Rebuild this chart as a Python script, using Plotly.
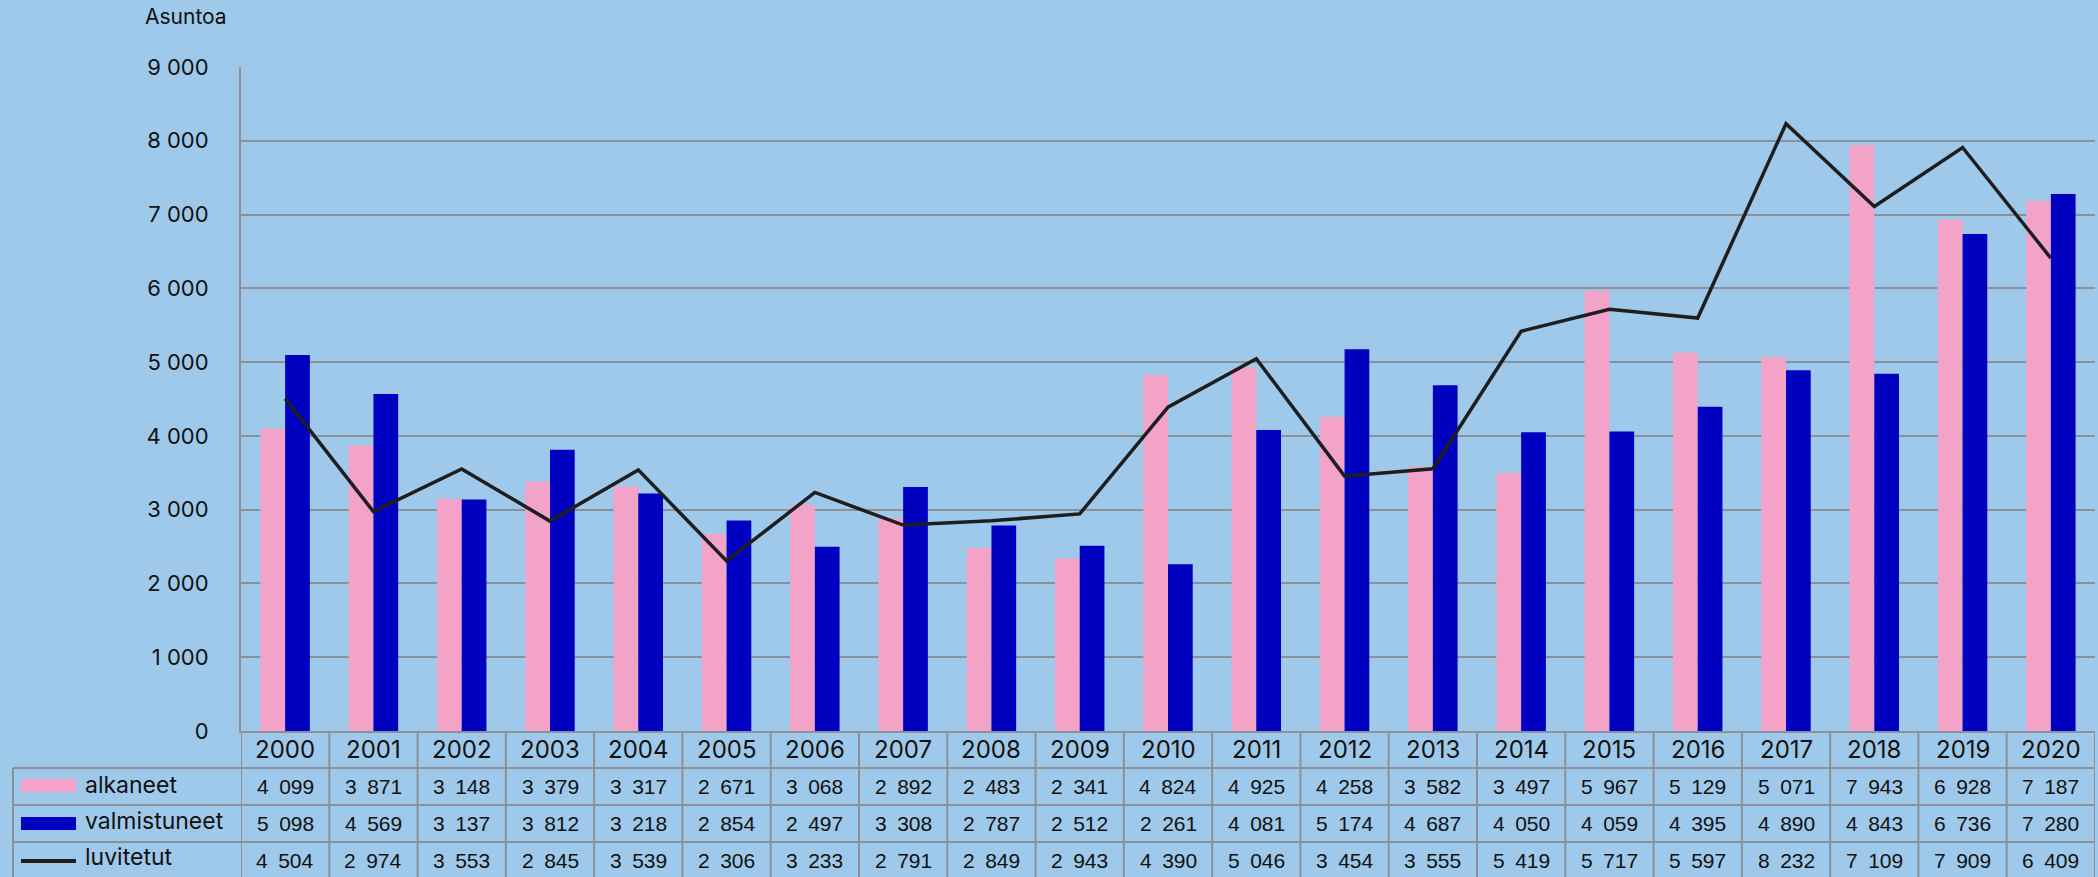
import plotly.graph_objects as go

years = [str(y) for y in range(2000, 2021)]
alkaneet = [4099, 3871, 3148, 3379, 3317, 2671, 3068, 2892, 2483, 2341, 4824,
            4925, 4258, 3582, 3497, 5967, 5129, 5071, 7943, 6928, 7187]
valmistuneet = [5098, 4569, 3137, 3812, 3218, 2854, 2497, 3308, 2787, 2512, 2261,
                4081, 5174, 4687, 4050, 4059, 4395, 4890, 4843, 6736, 7280]
luvitetut = [4504, 2974, 3553, 2845, 3539, 2306, 3233, 2791, 2849, 2943, 4390,
             5046, 3454, 3555, 5419, 5717, 5597, 8232, 7109, 7909, 6409]
series_names = ["alkaneet", "valmistuneet", "luvitetut"]

W, H = 2098, 877
PLOT_L, PLOT_R, PLOT_T, PLOT_B = 241, 2095, 67, 731
L, T = PLOT_L, PLOT_T
R = W - PLOT_R
B = H - PLOT_B
PH = PLOT_B - PLOT_T
PW = PLOT_R - PLOT_L

BG = "#9EC9EA"
PINK = "#F4A3C8"
BLUE = "#0000C0"
GRID = "#8C9198"
LINEC = "#1E1E1E"
FONT = "Inter, Liberation Sans, sans-serif"
TFONT = "Liberation Sans Narrow, Liberation Sans, sans-serif"

def py(Y):
    return (PLOT_B - Y) / PH

def px(X):
    return (X - PLOT_L) / PW

fig = go.Figure()
fig.add_trace(go.Bar(x=years, y=alkaneet, name=series_names[0], marker=dict(color=PINK, line=dict(width=0))))
fig.add_trace(go.Bar(x=years, y=valmistuneet, name=series_names[1], marker=dict(color=BLUE, line=dict(width=0))))
fig.add_trace(go.Scatter(x=years, y=luvitetut, name=series_names[2], mode="lines",
                         line=dict(color=LINEC, width=3.5)))

shapes = []
annotations = []

row_bounds = [731, 768, 805, 842, 879]
for i in range(len(years) + 1):
    shapes.append(dict(type="line", xref="x", yref="paper", x0=i - 0.5, x1=i - 0.5,
                       y0=py(row_bounds[0]), y1=py(row_bounds[-1]),
                       line=dict(color=GRID, width=2)))
for Y in row_bounds[1:]:
    shapes.append(dict(type="line", xref="paper", yref="paper", x0=px(13), x1=1,
                       y0=py(Y), y1=py(Y), line=dict(color=GRID, width=2)))
shapes.append(dict(type="line", xref="paper", yref="paper", x0=px(13), x1=px(13),
                   y0=py(768), y1=py(879), line=dict(color=GRID, width=2)))

for i, yr in enumerate(years):
    annotations.append(dict(x=i, y=py(749.5), xref="x", yref="paper", text=yr, showarrow=False,
                            xanchor="center", yanchor="middle",
                            font=dict(family=FONT, size=24, color="#111111")))

def fmt(v):
    return f"{v // 1000}\u2002{v % 1000:03d}"

rows = [alkaneet, valmistuneet, luvitetut]
centers = [786.5, 823.5, 860.5]
for vals, cy in zip(rows, centers):
    for i, v in enumerate(vals):
        annotations.append(dict(x=i, y=py(cy), xref="x", yref="paper", text=fmt(v), showarrow=False,
                                xanchor="center", yanchor="middle",
                                font=dict(family=TFONT, size=21, color="#111111")))

shapes.append(dict(type="rect", xref="paper", yref="paper", x0=px(21), x1=px(76),
                   y0=py(792), y1=py(779), fillcolor=PINK, line=dict(width=0)))
shapes.append(dict(type="rect", xref="paper", yref="paper", x0=px(21), x1=px(76),
                   y0=py(830), y1=py(817), fillcolor=BLUE, line=dict(width=0)))
shapes.append(dict(type="line", xref="paper", yref="paper", x0=px(21), x1=px(76),
                   y0=py(861), y1=py(861), line=dict(color=LINEC, width=4)))
for name, cy in zip(series_names, [785, 821, 857]):
    annotations.append(dict(x=px(83), y=py(cy), xref="paper", yref="paper", text=name, showarrow=False,
                            xanchor="left", yanchor="middle",
                            font=dict(family=FONT, size=23, color="#111111")))

annotations.append(dict(x=px(143), y=py(17), xref="paper", yref="paper", text="Asuntoa",
                        showarrow=False, xanchor="left", yanchor="middle",
                        font=dict(family=FONT, size=21, color="#111111")))

fig.update_layout(
    width=W, height=H,
    margin=dict(l=L, r=R, t=T, b=B, pad=0),
    paper_bgcolor=BG, plot_bgcolor=BG,
    barmode="group", bargap=0.44, bargroupgap=0,
    showlegend=False,
    separators=", ",
    shapes=shapes, annotations=annotations,
    font=dict(family=FONT, color="#111111"),
)
fig.update_xaxes(type="category", range=[-0.5, len(years) - 0.5], showticklabels=False,
                 showgrid=False, showline=True, linecolor=GRID, linewidth=2, zeroline=False,
                 ticks="")
fig.update_yaxes(range=[0, 9000], dtick=1000, tickformat=",d", showgrid=True, gridcolor=GRID,
                 gridwidth=1.5, showline=True, linecolor=GRID, linewidth=2, zeroline=False,
                 ticks="", ticklabelstandoff=26, tickfont=dict(family=FONT, size=22, color="#111111"))

fig.write_html(
    "out.html",
    config={"displayModeBar": False},
    post_script="document.body.style.margin='0';document.body.style.overflow='hidden';"
                "document.body.style.background='" + BG + "';",
)
